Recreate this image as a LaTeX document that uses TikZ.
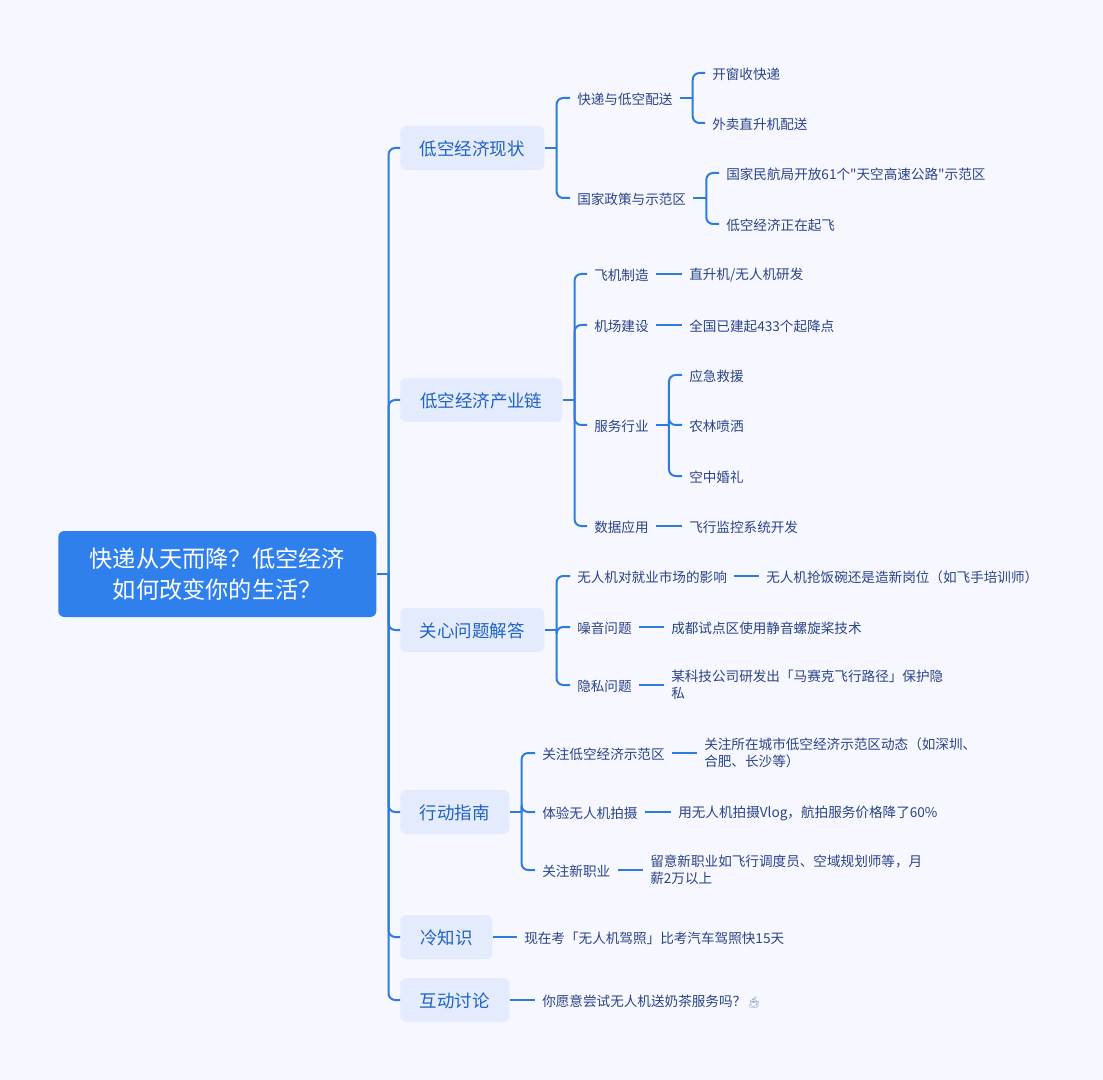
\documentclass[tikz,border=0pt]{standalone}
\usepackage{fontspec}
\setmainfont{Noto Sans CJK SC}
\newfontfamily\plainf{Noto Sans CJK SC}
\newfontfamily\emojifont{Noto Emoji}
\definecolor{bgc}{HTML}{F6F7FF}
\definecolor{boxc}{HTML}{E3EBFD}
\definecolor{rootc}{HTML}{2F80ED}
\definecolor{linec}{HTML}{2F7BDD}
\definecolor{lonec}{HTML}{1F62C4}
\definecolor{leafc}{HTML}{2A4488}
\definecolor{cupc}{HTML}{8FA3C8}
\newcommand{\sq}{{\plainf"}}
\tikzset{
  rootbox/.style={fill=rootc,text=white,rounded corners=4.5pt,minimum width=238.5pt,minimum height=64.5pt,inner sep=0pt,anchor=west,align=center,font=\fontsize{17.4}{23.5}\selectfont},
  lone/.style={fill=boxc,text=lonec,rounded corners=4.5pt,minimum height=33pt,minimum width=#1*0.75pt,inner sep=0pt,anchor=west,font=\fontsize{13.1}{16}\selectfont,execute at begin node={\rule{0pt}{13pt}}},
  leaf/.style={text=leafc,inner xsep=5.25pt,inner ysep=0pt,anchor=west,align=left,font=\fontsize{10.2}{12.9}\selectfont,execute at begin node={\rule{0pt}{10.5pt}}},
  link/.style={draw=linec,line width=1.5pt},
  branchline/.style={link,rounded corners=5pt}
}
% \fork{parent}{gap}{child}: stem from the parent, curved branch to the child
\newcommand{\stem}[2]{\draw[link] (#1.east) -- ++(#2,0);}
\newcommand{\fork}[3]{\draw[branchline] (#1.east) ++(#2,0) |- (#3.west);}
\newcommand{\straight}[2]{\draw[link] (#1.east) -- (#2.west);}
\begin{document}
\begin{tikzpicture}[x=0.75pt,y=-0.75pt]
\fill[bgc] (0,0) rectangle (1103,1080);
\useasboundingbox (0,0) rectangle (1103,1080);
\node[rootbox] (root) at (58,574) {快递从天而降？低空经济\\如何改变你的生活？};
\node[lone=144] (a) at (400,148) {低空经济现状};
\node[lone=162] (b) at (400,400) {低空经济产业链};
\node[lone=144] (c) at (400,630) {关心问题解答};
\node[lone=109] (d) at (400,812) {行动指南};
\node[lone=92] (e) at (400,937) {冷知识};
\node[lone=109] (f) at (400,1000) {互动讨论};
% branch a
\node[leaf] (a1) at (570,98) {快递与低空配送};
\node[leaf] (a2) at (570,198) {国家政策与示范区};
\node[leaf] (a11) at (705,73) {开窗收快递};
\node[leaf] (a12) at (705,123) {外卖直升机配送};
\node[leaf] (a21) at (719,173) {国家民航局开放61个\sq 天空高速公路\sq 示范区};
\node[leaf] (a22) at (719,224) {低空经济正在起飞};
% branch b
\node[leaf] (b1) at (587,274) {飞机制造};
\node[leaf] (b2) at (587,325) {机场建设};
\node[leaf] (b3) at (587,425) {服务行业};
\node[leaf] (b4) at (587,526) {数据应用};
\node[leaf] (b11) at (682,274) {直升机/无人机研发};
\node[leaf] (b21) at (682,325) {全国已建起433个起降点};
\node[leaf] (b31) at (682,375) {应急救援};
\node[leaf] (b32) at (682,425) {农林喷洒};
\node[leaf] (b33) at (682,476) {空中婚礼};
\node[leaf] (b41) at (682,526) {飞行监控系统开发};
% branch c
\node[leaf] (c1) at (570,576) {无人机对就业市场的影响};
\node[leaf] (c2) at (570,627) {噪音问题};
\node[leaf] (c3) at (570,685) {隐私问题};
\node[leaf] (c11) at (759,576) {无人机抢饭碗还是造新岗位（如飞手培训师）};
\node[leaf] (c21) at (664,627) {成都试点区使用静音螺旋桨技术};
\node[leaf] (c31) at (664,685) {某科技公司研发出「马赛克飞行路径」保护隐\\私};
% branch d
\node[leaf] (d1) at (535,753) {关注低空经济示范区};
\node[leaf] (d2) at (535,812) {体验无人机拍摄};
\node[leaf] (d3) at (535,870) {关注新职业};
\node[leaf] (d11) at (697,753) {关注所在城市低空经济示范区动态（如深圳、\\合肥、长沙等）};
\node[leaf] (d21) at (671,812) {用无人机拍摄Vlog，航拍服务价格降了60\%};
\node[leaf] (d31) at (643,870) {留意新职业如飞行调度员、空域规划师等，月\\薪2万以上};
% branches e, f
\node[leaf] (e1) at (517,937) {现在考「无人机驾照」比考汽车驾照快15天};
\node[leaf] (f1) at (535,1000) {你愿意尝试无人机送奶茶服务吗？\hspace{0.5pt}{\emojifont\fontsize{8.5}{10}\selectfont\textcolor{cupc}{☕}}};
% connectors
\stem{root}{12}
\foreach \n in {a,b,c,d,e,f} {\fork{root}{12}{\n}}
\stem{a}{12} \fork{a}{12}{a1} \fork{a}{12}{a2}
\stem{a1}{13} \fork{a1}{13}{a11} \fork{a1}{13}{a12}
\stem{a2}{13} \fork{a2}{13}{a21} \fork{a2}{13}{a22}
\stem{b}{12} \foreach \n in {b1,b2,b3,b4} {\fork{b}{12}{\n}}
\straight{b1}{b11} \straight{b2}{b21} \straight{b4}{b41}
\stem{b3}{13} \foreach \n in {b31,b32,b33} {\fork{b3}{13}{\n}}
\stem{c}{12} \foreach \n in {c1,c2,c3} {\fork{c}{12}{\n}}
\straight{c1}{c11} \straight{c2}{c21} \straight{c3}{c31}
\stem{d}{12} \foreach \n in {d1,d2,d3} {\fork{d}{12}{\n}}
\straight{d1}{d11} \straight{d2}{d21} \straight{d3}{d31}
\straight{e}{e1}
\straight{f}{f1}
\end{tikzpicture}
\end{document}
